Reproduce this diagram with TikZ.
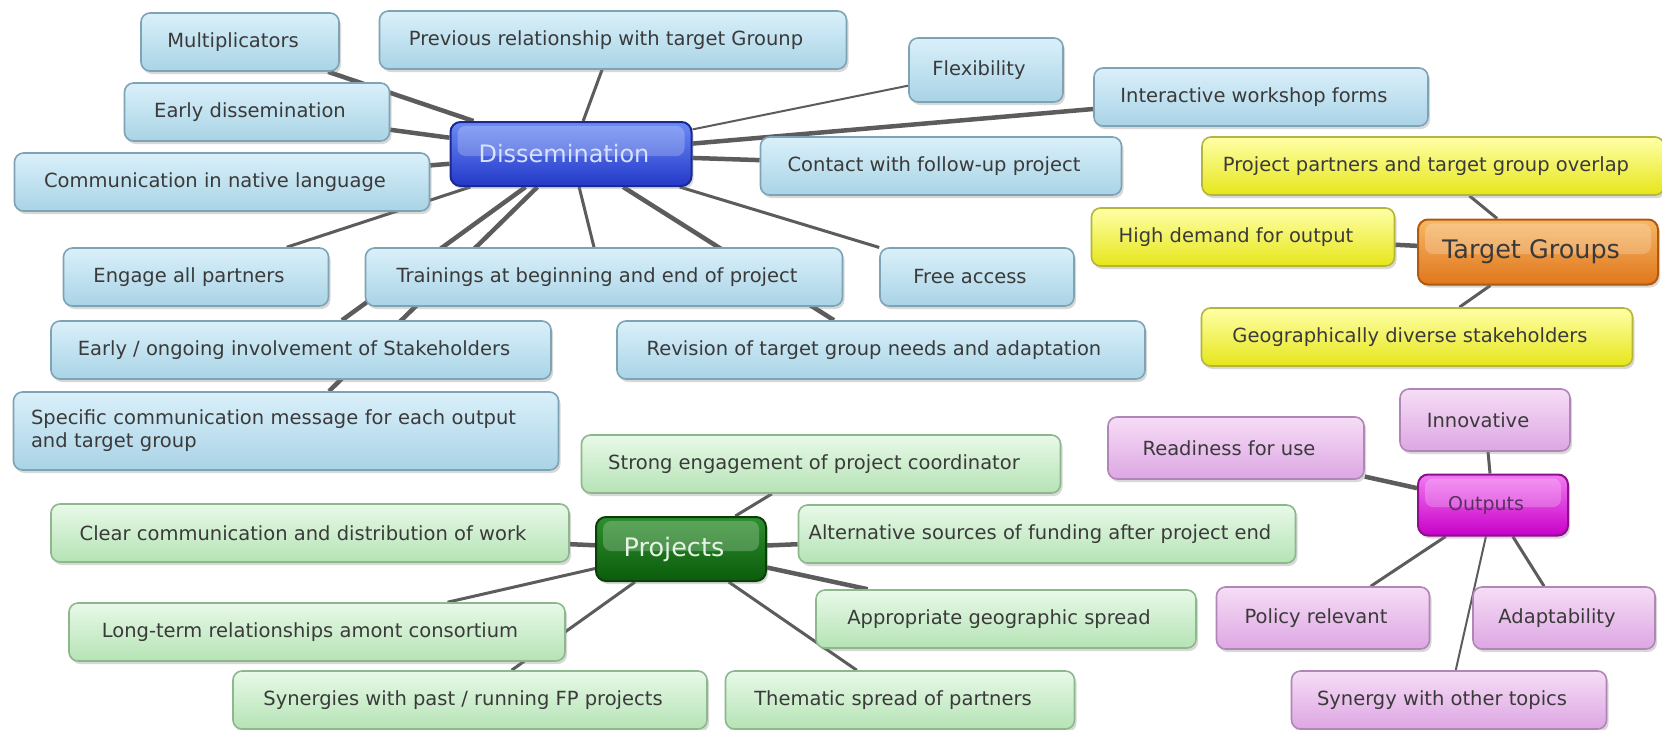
\documentclass[tikz,border=0pt]{standalone}
\usepackage{fontspec}
\setmainfont{DejaVu Sans}
\usetikzlibrary{shadows,backgrounds}

\definecolor{bluetop}{HTML}{DAF0FA}
\definecolor{bluebot}{HTML}{A9D3E6}
\definecolor{blueline}{HTML}{7EA3B5}
\definecolor{disstop}{HTML}{6C8CF6}
\definecolor{dissbot}{HTML}{2338C8}
\definecolor{dissline}{HTML}{1A2890}
\definecolor{disstext}{HTML}{D6E2FF}
\definecolor{yeltop}{HTML}{FFFFA8}
\definecolor{yelbot}{HTML}{E6E61A}
\definecolor{yelline}{HTML}{B5B53A}
\definecolor{ortop}{HTML}{F7B865}
\definecolor{orbot}{HTML}{E0761C}
\definecolor{orline}{HTML}{B05A10}
\definecolor{pinktop}{HTML}{F6DDF6}
\definecolor{pinkbot}{HTML}{DDA6E3}
\definecolor{pinkline}{HTML}{AF86B5}
\definecolor{magtop}{HTML}{F27AF2}
\definecolor{magbot}{HTML}{C800C8}
\definecolor{magline}{HTML}{8C108C}
\definecolor{magtext}{HTML}{5A3060}
\definecolor{greentop}{HTML}{E8F9E8}
\definecolor{greenbot}{HTML}{B5E3B5}
\definecolor{greenline}{HTML}{8DB88D}
\definecolor{projtop}{HTML}{2F8F2F}
\definecolor{projbot}{HTML}{0B5C0B}
\definecolor{projline}{HTML}{0A3F0A}
\definecolor{projtext}{HTML}{E6F4E6}
\definecolor{linkgray}{HTML}{5C5C5C}
\definecolor{textgray}{HTML}{3A3A3A}

\begin{document}
\begin{tikzpicture}[x=1pt,y=-1pt,
	leaf/.style={rounded corners=9pt, line width=1.6pt, minimum height=58pt, inner xsep=4pt,
		text=textgray, font=\fontsize{19.5}{23}\selectfont, execute at end node={\hspace{14pt}},
		drop shadow={opacity=0.3, shadow xshift=2pt, shadow yshift=-3pt}},
	bluenode/.style={leaf, draw=blueline, top color=bluetop, bottom color=bluebot},
	yellownode/.style={leaf, draw=yelline, top color=yeltop, bottom color=yelbot},
	pinknode/.style={leaf, draw=pinkline, top color=pinktop, bottom color=pinkbot},
	greennode/.style={leaf, draw=greenline, top color=greentop, bottom color=greenbot},
	hub/.style={rounded corners=10pt, line width=2pt, minimum height=64pt,
		font=\fontsize{24}{28}\selectfont, execute at end node={\hspace{14pt}},
		drop shadow={opacity=0.3, shadow xshift=2pt, shadow yshift=-3pt},
		path picture={\fill[white, opacity=0.22, rounded corners=8pt]
			([xshift=7pt, yshift=-4pt]path picture bounding box.north west) rectangle
			([xshift=-7pt, yshift=-2pt]path picture bounding box.east);}},
	bluehub/.style={hub, draw=dissline, top color=disstop, bottom color=dissbot, text=disstext},
	orangehub/.style={hub, draw=orline, top color=ortop, bottom color=orbot, text=textgray},
	magentahub/.style={hub, draw=magline, top color=magtop, bottom color=magbot, text=magtext},
	greenhub/.style={hub, draw=projline, top color=projtop, bottom color=projbot, text=projtext},
	twig/.style={draw=linkgray, line width=2pt},
	branch/.style={draw=linkgray, line width=3pt},
	bough/.style={draw=linkgray, line width=4.5pt}
]
\useasboundingbox (0,0) rectangle (1662,729);

% Dissemination
\node[bluehub, minimum width=241pt] (diss) at (571,154) {Dissemination};
\node[bluenode, minimum width=198pt] (mult) at (240,42) {Multiplicators};
\node[bluenode, minimum width=467pt] (prev) at (613,40) {Previous relationship with target Grounp};
\node[bluenode, minimum width=154pt, minimum height=64pt] (flex) at (986,70) {Flexibility};
\node[bluenode, minimum width=334pt] (inter) at (1261,97) {Interactive workshop forms};
\node[bluenode, minimum width=265pt] (early) at (257,112) {Early dissemination};
\node[bluenode, minimum width=361pt] (contact) at (941,166) {Contact with follow-up project};
\node[bluenode, minimum width=415pt] (native) at (222,182) {Communication in native language};
\node[bluenode, minimum width=265pt] (engage) at (196,277) {Engage all partners};
\node[bluenode, minimum width=477pt] (train) at (604,277) {Trainings at beginning and end of project};
\node[bluenode, minimum width=194pt] (free) at (977,277) {Free access};
\node[bluenode, minimum width=500pt] (invol) at (301,350) {Early / ongoing involvement of Stakeholders};
\node[bluenode, minimum width=528pt] (revis) at (881,350) {Revision of target group needs and adaptation};
\node[bluenode, minimum width=545pt, minimum height=78pt, text width=510pt, align=left] (spec) at (286,431)
	{Specific communication message for each output\\and target group};

% Target groups
\node[orangehub, minimum width=240pt, minimum height=65pt, font=\fontsize{25.5}{30}\selectfont] (tg) at (1538,252) {Target Groups};
\node[yellownode, minimum width=462pt] (overlap) at (1433,166) {Project partners and target group overlap};
\node[yellownode, minimum width=303pt] (demand) at (1243,237) {High demand for output};
\node[yellownode, minimum width=431pt] (geo) at (1417,337) {Geographically diverse stakeholders};

% Outputs
\node[magentahub, minimum width=150pt, minimum height=61pt, font=\fontsize{19}{22}\selectfont] (outp) at (1493,505) {Outputs};
\node[pinknode, minimum width=170pt, minimum height=62pt] (innov) at (1485,420) {Innovative};
\node[pinknode, minimum width=256pt, minimum height=62pt] (ready) at (1236,448) {Readiness for use};
\node[pinknode, minimum width=213pt, minimum height=62pt] (policy) at (1323,618) {Policy relevant};
\node[pinknode, minimum width=182pt, minimum height=62pt] (adapt) at (1564,618) {Adaptability};
\node[pinknode, minimum width=315pt] (synergy) at (1449,700) {Synergy with other topics};

% Projects
\node[greenhub, minimum width=170pt, font=\fontsize{25.5}{30}\selectfont] (proj) at (681,549) {Projects};
\node[greennode, minimum width=479pt] (strong) at (821,464) {Strong engagement of project coordinator};
\node[greennode, minimum width=518pt] (clear) at (310,533) {Clear communication and distribution of work};
\node[greennode, minimum width=497pt] (alt) at (1047,534) {Alternative sources of funding after project end};
\node[greennode, minimum width=496pt] (longt) at (317,632) {Long-term relationships amont consortium};
\node[greennode, minimum width=380pt] (approp) at (1006,619) {Appropriate geographic spread};
\node[greennode, minimum width=474pt] (synpast) at (470,700) {Synergies with past / running FP projects};
\node[greennode, minimum width=349pt] (thematic) at (900,700) {Thematic spread of partners};

\begin{pgfonlayer}{background}
	\fill[white] (0,0) rectangle (1662,729);
	\draw[bough] (diss) -- (mult) (diss) -- (early) (diss) -- (native) (diss) -- (contact)
		(diss) -- ([yshift=-12pt]inter.west) (diss) -- (invol) (diss) -- ([xshift=43pt]spec.north) (diss) -- (revis);
	\draw[branch] (diss) -- (prev) (diss) -- (engage) (diss) -- ([xshift=-10pt]train.north) (diss) -- (free);
	\draw[twig] (diss) -- (flex);
	\draw[bough] (tg) -- (demand);
	\draw[branch] (tg) -- (overlap) (tg) -- (geo);
	\draw[bough] (outp) -- (ready);
	\draw[branch] (outp) -- (innov) (outp) -- (policy) (outp) -- (adapt);
	\draw[twig] (outp) -- (synergy);
	\draw[bough] (proj) -- (clear) (proj) -- (alt) (proj) -- (approp);
	\draw[branch] (proj) -- (strong) (proj) -- (longt) (proj) -- (synpast) (proj) -- (thematic);
\end{pgfonlayer}
\end{tikzpicture}
\end{document}
